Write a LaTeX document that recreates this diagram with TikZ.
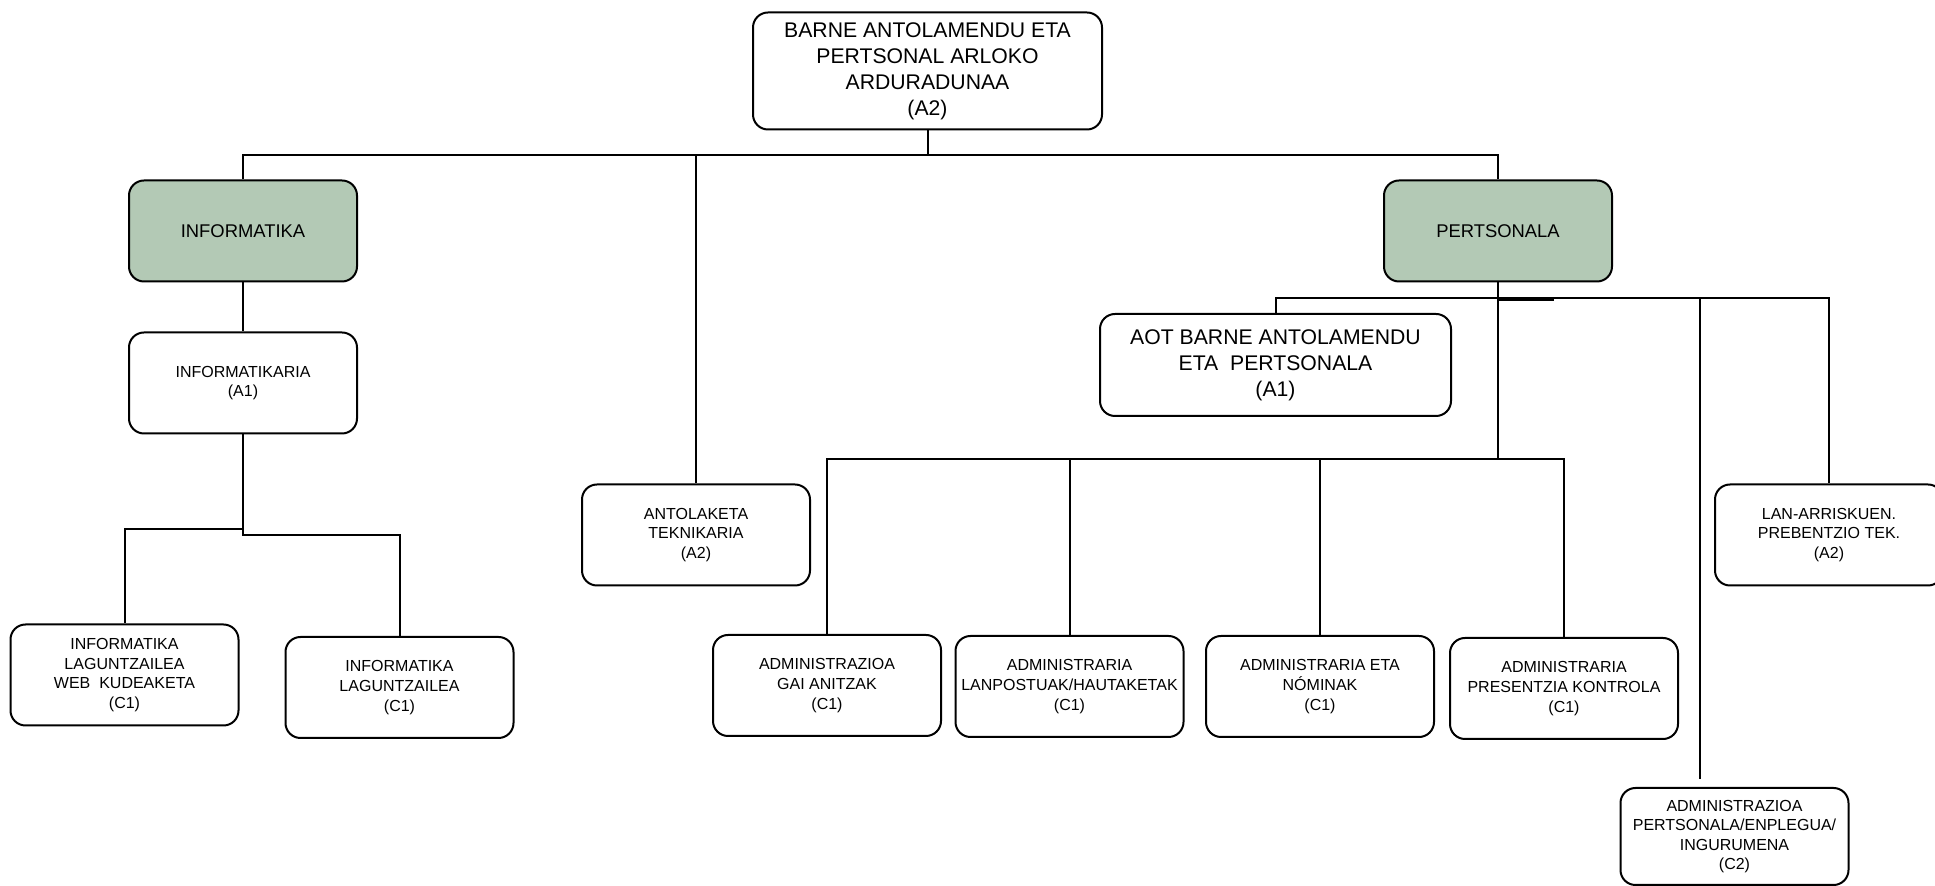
\documentclass[tikz,border=0pt]{standalone}
\usepackage{fontspec}
\setmainfont{Liberation Sans}
\definecolor{unitgreen}{RGB}{179,201,181}

\begin{document}
\begin{tikzpicture}
[-,x=0.5pt,y=-0.5pt,line width=1pt,%
  post/.style={shape=rectangle,rounded corners=7.5pt,draw,line width=1pt,align=center,inner sep=2pt,%
    minimum width=114pt,minimum height=50.5pt,font=\fontsize{8}{9.8}\selectfont},%
  unit/.style={post,fill=unitgreen,font=\fontsize{9.2}{11}\selectfont},%
  head/.style={post,minimum width=174.5pt,minimum height=58.5pt,font=\fontsize{10.6}{13}\selectfont}]
\useasboundingbox (0,0) rectangle (1935,886);

\node[head] (arduradun) at (927.5,71) {BARNE ANTOLAMENDU ETA\\PERTSONAL ARLOKO\\ARDURADUNAA\\(A2)};
\node[unit] (informatika) at (243,231) {INFORMATIKA};
\node[unit] (pertsonala) at (1498,231) {PERTSONALA};
\node[post] (informatikaria) at (243,383) {INFORMATIKARIA\\(A1)};
\node[post] (antolaketa) at (696,535) {ANTOLAKETA\\TEKNIKARIA\\(A2)};
\node[head,minimum width=175.5pt,minimum height=51pt] (aot) at (1275.5,365)
  {AOT BARNE ANTOLAMENDU\\ETA~ PERTSONALA\\(A1)};
\node[post] (lanarrisku) at (1829,535) {LAN-ARRISKUEN.\\PREBENTZIO TEK.\\(A2)};
\node[post] (weblagun) at (124.5,675) {INFORMATIKA\\LAGUNTZAILEA\\WEB~ KUDEAKETA\\(C1)};
\node[post] (lagun) at (399.5,687.5) {INFORMATIKA\\LAGUNTZAILEA\\(C1)};
\node[post] (gaianitz) at (827,685.5) {ADMINISTRAZIOA\\GAI ANITZAK\\(C1)};
\node[post] (lanpostu) at (1069.5,686.5) {ADMINISTRARIA\\LANPOSTUAK/HAUTAKETAK\\(C1)};
\node[post] (nomina) at (1320,686.5) {ADMINISTRARIA ETA\\NÓMINAK\\(C1)};
\node[post] (presentzia) at (1564,688.5) {ADMINISTRARIA\\PRESENTZIA KONTROLA\\(C1)};
\node[post,minimum height=48.5pt] (admpertsonal) at (1734.5,836.5)
  {ADMINISTRAZIOA\\PERTSONALA/ENPLEGUA/\\INGURUMENA\\(C2)};

\draw (arduradun.south) -- ++(0,25) coordinate (topjoint);
\draw (informatika.north) |- (topjoint) -| (pertsonala.north);
\draw (antolaketa.north) -- (antolaketa.north |- topjoint);

\draw (informatika) -- (informatikaria);
\draw (informatikaria.south) -- ++(0,101) coordinate (infjoint) -| (lagun.north);
\draw (informatikaria.south) ++(0,95) coordinate (webjoint) -| (weblagun.north);

\draw (pertsonala.south) -- ++(0,16) coordinate (perjoint) -- ++(0,161) coordinate (admjoint);
\draw (aot.north) |- (perjoint) -| (lanarrisku.north);
\draw (perjoint) ++(0,1.5) -- ++(56,0);
\draw (gaianitz.north) |- (admjoint) -| (presentzia.north);
\draw (lanpostu.north) -- (lanpostu.north |- admjoint);
\draw (nomina.north) -- (nomina.north |- admjoint);
\coordinate (admend) at (1700,779);
\draw (admend |- perjoint) -- (admend);
\end{tikzpicture}
\end{document}
